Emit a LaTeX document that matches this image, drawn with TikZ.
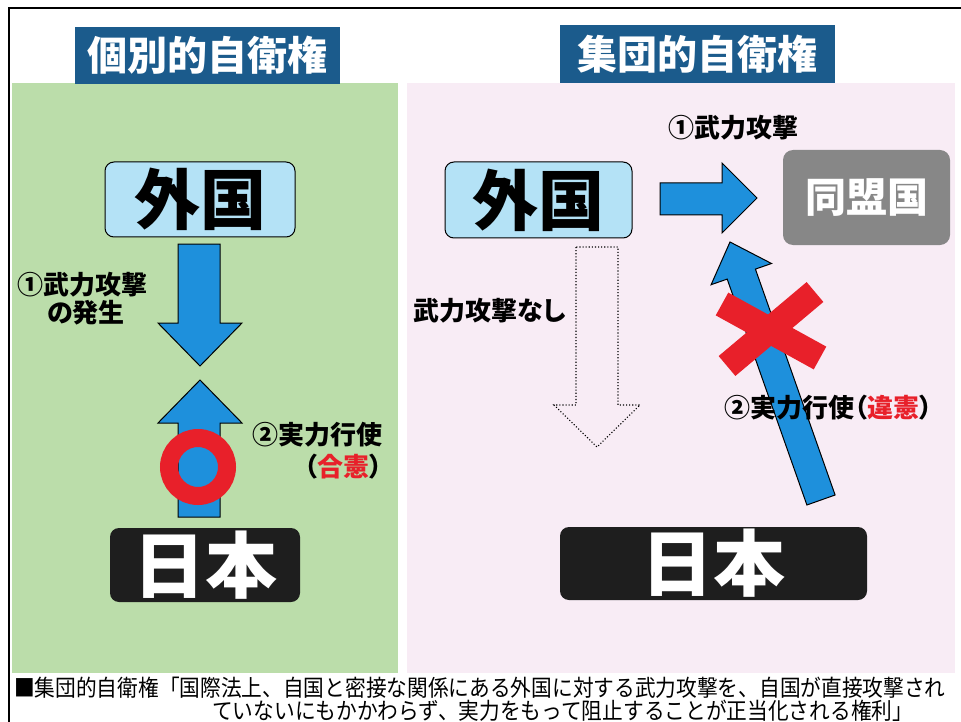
\documentclass[tikz,border=0pt]{standalone}
\usepackage{fontspec}
\newfontfamily\jp[RawFeature=+palt]{Noto Sans CJK JP}
\newfontfamily\jpc[FakeStretch=0.9]{Noto Sans CJK JP}
\definecolor{titleblue}{RGB}{27,91,140}
\definecolor{panelgreen}{RGB}{187,221,170}
\definecolor{panelpink}{RGB}{248,236,245}
\definecolor{boxblue}{RGB}{180,226,246}
\definecolor{arrowblue}{RGB}{30,144,220}
\definecolor{markred}{RGB}{232,32,42}
\definecolor{boxgray}{RGB}{135,135,135}
\definecolor{boxblack}{RGB}{30,30,30}
\tikzset{
  titlebox/.style={fill=titleblue, text=white, inner sep=0pt, font=\jp\bfseries\fontsize{40}{40}\selectfont},
  countrybox/.style={fill=boxblue, draw=black, line width=1pt, rounded corners=9pt, inner sep=0pt, font=\jp\bfseries\fontsize{66}{66}\selectfont},
  japanbox/.style={fill=boxblack, text=white, rounded corners=9pt, inner sep=0pt, font=\jp\bfseries\fontsize{72}{72}\selectfont},
  allybox/.style={fill=boxgray, text=white, rounded corners=10pt, inner sep=0pt, font=\jp\bfseries\fontsize{41}{41}\selectfont},
  lbl/.style={inner sep=0pt, font=\jp\bfseries\fontsize{26}{26}\selectfont},
  notetext/.style={inner sep=0pt, font=\jpc\fontsize{23}{23}\selectfont},
  blockarrow/.style={fill=arrowblue, draw=black, line width=1pt, line join=miter},
}
\begin{document}
\begin{tikzpicture}[x=1pt,y=-1pt]
\useasboundingbox (0,0) rectangle (961,722);
\fill[white] (0,0) rectangle (961,722);
% panels
\fill[panelgreen] (12,83) rectangle (398,673);
\fill[panelpink] (407,83) rectangle (955,673);
% frame
\draw[line width=1.5pt] (9,722) -- (9,8) -- (961,8);
% titles
\node[titlebox, minimum width=265pt, minimum height=57pt] (t1) at (207.5,55.5) {個別的自衛権};
\node[titlebox, minimum width=275pt, minimum height=58pt] (t2) at (697.5,54) {集団的自衛権};
% left panel
\node[countrybox, minimum width=190pt, minimum height=75pt] (fl) at (200,199.5) {外国};
\node[japanbox, minimum width=190pt, minimum height=74pt] (jl) at (205,565) {日本};
\draw[blockarrow] (178,244) -- (220,244) -- (220,323) -- (242,323) -- (200,366) -- (158,323) -- (178,323) -- cycle;
\draw[blockarrow] (178,517) -- (178,423) -- (158,423) -- (200,380) -- (242,423) -- (220,423) -- (220,517) -- cycle;
\draw[markred, line width=18pt] (198,467) circle[radius=29pt];
\node[lbl, anchor=west] (la1) at (17,285) {①武力攻撃};
\node[lbl, anchor=west] (la2) at (47,313) {の発生};
\node[lbl, anchor=east] (lb1) at (383,435) {②実力行使};
\node[lbl, anchor=east] (lb2) at (383,467) {（\textcolor{markred}{合憲}）};
% right panel
\node[countrybox, minimum width=187pt, minimum height=76pt] (fr) at (538.5,200) {外国};
\node[allybox, minimum width=167pt, minimum height=95pt] (al) at (866.5,197.5) {同盟国};
\node[japanbox, minimum width=307pt, minimum height=73pt] (jr) at (713.5,563.5) {日本};
\draw[blockarrow] (660,183) -- (722,183) -- (722,163) -- (757,198) -- (722,233) -- (722,215) -- (660,215) -- cycle;
\draw[black, line width=1.1pt, dotted] (576,247) -- (576,405) -- (554,405) -- (597,447) -- (640,405) -- (618,405) -- (618,247) -- cycle;
\draw[blockarrow] (806.9,505) -- (727.2,279.1) -- (711.1,284.7) -- (730,242) -- (771.5,263.5) -- (755.4,269.1) -- (835.1,495) -- cycle;
\node[lbl, anchor=west] (ra1) at (668,128) {①武力攻撃};
\node[lbl, anchor=west] (rn) at (413,311) {武力攻撃なし};
\node[lbl, anchor=west] (rb) at (724,408) {②実力行使（\textcolor{markred}{違憲}）};
\draw[markred, line width=26pt] (722,304) -- (820,358);
\draw[markred, line width=26pt] (815,292) -- (727,366);
% note
\node[notetext, anchor=west] (n1) at (14,688) {■集団的自衛権「国際法上、自国と密接な関係にある外国に対する武力攻撃を、自国が直接攻撃され};
\node[notetext, anchor=west] (n2) at (212,711) {ていないにもかかわらず、実力をもって阻止することが正当化される権利」};
\end{tikzpicture}
\end{document}
